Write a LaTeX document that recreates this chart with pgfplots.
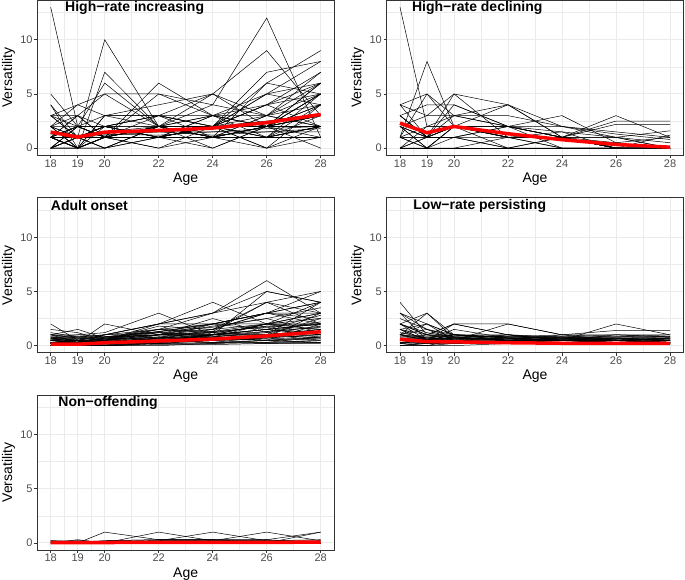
\documentclass[border=0pt]{standalone}
\usepackage{pgfplots}
\usepackage{pgfplotstable}
\pgfplotsset{compat=1.18}
\usepackage{fontspec}
\setmainfont{Liberation Sans}
\definecolor{grid92}{HTML}{EBEBEB}
\definecolor{grey20}{HTML}{333333}
\definecolor{grey30}{HTML}{4D4D4D}

% High-rate increasing
\pgfplotstableread{
id 18 19 20 22 24 26 28
p1 13 2 1 2 1 2 3
p2 5 2 1 2 2 3 4
p3 4 1 10 2 2 2 3
p4 4 0 7 2 1 2 2
p5 3 2 6 2 2 1 2
p6 3 4 5 2 1 1 2
p7 3 1 1 6 3 2 5
p8 2 0 1 5 3 1 2
p9 1 1 2 3 5 2 2
p10 2 3 1 2 4 12 1
p11 1 0 0 2 5 9 3
p12 1 2 1 1 2 7 8
p13 1 1 2 1 1 6 9
p14 0 1 1 2 2 5 8
p15 0 0 1 1 2 4 7
p16 1 0 1 1 3 2 6
p17 1 1 0 1 2 2 6
p18 0 2 1 0 1 2 5
p19 1 1 1 2 0 2 5
p20 0 1 1 1 1 1 4
p21 1 1 1 1 2 0 4
p22 1 0 1 3 1 2 3
p23 1 1 1 1 3 2 3
p24 0 1 1 0 2 2 2
p25 1 2 2 1 2 2 1
p26 1 1 1 2 1 0 2
p27 0 0 1 1 0 2 2
p28 1 1 0 2 2 0 1
p29 1 0 1 1 2 2 0
p30 1 3 1 1 1 1 2
p31 0 1 1 2 1 2 3
p32 1 0 2 1 2 2 2
p33 1 2 1 1 1 1 1
p34 1 1 1 1 2 2 4
p35 0 0 0 1 1 1 2
p36 1 1 1.5 1.5 1.5 1.5 1.5
p37 1.3 1.2 1.3 1.2 1.5 1.8 2
p38 1.5 1 1.5 2 2 2.5 3
p39 1 1 1.2 1.5 1.2 1.5 1.8
p40 1 1 1 1 1 1 1
p41 2 4 3 3 2 4 6
p42 3 3 5 5 4 3 5
p43 2 0 3 3 2 5 6
p44 0 2 3 4 5 3 6
p45 2 1 2 3 3 4 5
p46 0 1 2 1 2 6 5
p47 2 1 0 2 3 5 4
p48 1 2 2 1 1 3 7
p49 2 0 3 2 2 4 2
p50 1 1 2 2 3 3 2
p51 3 1 2 2 1 2 4
p52 0 2 1 1 2 1 3
p53 1 0 1 1 1 3 2
p54 2 2 2 1 2 2 2
p55 1 3 2 3 2 1 5
}\rawA

% High-rate declining
\pgfplotstableread{
id 18 19 20 22 24 26 28
p1 13 2 2 2 1 0 0
p2 1 8 2 2 1 0 0
p3 4 5 2 2 1 0 0
p4 4 3 5 4 1 0 0
p5 3 4 4 2 3 0.5 0
p6 3 1 5 1 1 1 0
p7 2 0 2 4 1 0 0
p8 1 1 2 1 1 3 1
p9 0 2 2 1 1 1 1.6
p10 3 1 1 2 1 2.5 2.5
p11 2 1 4 2 1 2.2 2.2
p12 1 0 2 0 1 0.5 1
p13 0 0 0 1 1 0 0
p14 2 1 1 2 0 0 1.2
p15 3 1 2 1 1 0 0
p16 1 1 2 1 1 0 0
p17 0 1 1 1 0 0 0
p18 2 0 1 0 1 0 0
p19 4 1 1 0 0 0 0
p20 1 0 2 1 0 0 0
p21 0 0 0 0 0 0 0
p22 2 1 2 1 1.5 0 0
p23 1 2 3 3 2 1.5 1
p24 2 3 3 2 1.5 1 0.5
p25 0 1 3 2 2 1.3 0.8
p26 1 5 3 4 2 1 0
}\rawB

% Adult onset
\pgfplotstableread{
id 18 19 20 22 24 26 28
p1 2 0.5 0.3 0.5 1 1.5 2
p2 1.5 1.2 0.5 1 1 2 3
p3 1 1.5 0.7 1.3 2 3 4
p4 1 0.3 2 1 1 1 1.5
p5 0.7 1 1.2 3 1 2 2
p6 0.5 0.2 1 2 4 2 1
p7 0.3 0.5 0.5 1.5 3 6 3
p8 0 0 0.3 0.5 1 5 4
p9 0 0.2 0 1 1.5 4 5
p10 0.2 0 0.2 0.7 2 3 5
p11 0.5 0.3 0.5 2 3 4 2
p12 0 0 0 0.3 0.7 1 4
p13 1 0.7 0.5 1.8 1.5 2 4
p14 0.3 0.3 0.7 1 2 3 3
p15 0 0 0.2 0.5 0.3 0.8 3
p16 0.7 0.5 1 1.2 1 1.5 1
p17 0.2 0.3 0.3 0.3 0.5 1 2.5
p18 0 0 0 0.2 0.3 0.5 2
p19 0.5 0.7 0.8 1 1.2 1 0.5
p20 0 0.1 0.2 0.3 1 2 1.5
p21 0.3 0.2 0.5 0.8 0.5 0.7 1
p22 0 0 0 0 0.2 0.3 0.8
p23 0.2 0.3 0.2 0.5 0.8 1.2 1.8
p24 1 0.8 1 2 2 3 2
p25 0.8 0.5 0.3 0.7 0.5 1 0.7
p26 0 0 0.1 0.2 0.5 0.3 0.5
p27 0.3 0.5 0.3 1 1.8 2.5 1.2
p28 0.5 0.3 0.7 0.5 0.7 0.5 0.3
p29 0 0 0 0.5 0.3 0.2 0.2
p30 0.2 0.2 0.5 0.3 1 0.8 1.2
p31 0.7 0.3 0.8 1.2 0.8 1.3 2.2
p32 0 0.3 0 0.2 0.2 0.5 0.3
p33 0.3 0 0.2 0.7 1.3 1.7 1
p34 0.5 0.5 0.5 0.8 0.7 0.5 0.8
p35 0 0 0.3 0.3 0.5 0.7 0.5
p36 0.2 0.2 0.2 0.5 0.3 0.3 0.3
p37 0 0.2 0.5 1.3 2 1.5 2.8
p38 0.8 0.7 0.7 1 1 1 1
p39 0 0 0 0.1 0.1 0.2 0.3
p40 0.3 0.3 0.2 0.2 0.5 1 1.5
p41 0.5 0.5 1 2 3 5 4
p42 0.2 0.3 0.6 1.5 1.3 4 3
p43 0.6 0.4 0.4 0.6 1.5 3 4
p44 0.3 0.5 0.3 0.7 1 1.3 1.7
p45 0.7 0.7 0.5 1 1.3 2 2.5
p46 0.2 0.3 0.5 0.5 0.8 0.7 1.3
p47 0.5 0.3 0.7 0.7 1 1.5 1
p48 0.8 0.8 0.8 1.3 1.7 2.5 3.5
p49 0 0.2 0.2 0.3 0.7 0.5 0.7
p50 0.3 0.3 0.3 0.8 1.2 1.8 1.5
p51 1 1 0.8 1.5 2 2 3
p52 0.5 0.3 0.5 1 0.8 2 1.8
p53 0.2 0 0.3 0.5 1 1.5 2
p54 0.7 0.5 0.8 1 2.5 1.2 0.8
p55 0.3 0.2 0.2 0.7 0.7 1 1.2
p56 0.5 0.8 0.5 1.2 1.5 3 2.5
p57 0 0.1 0.3 0.5 0.5 1 0.7
p58 1.2 0.8 1 1.5 1.2 1.8 2
}\rawC

% Low-rate persisting
\pgfplotstableread{
id 18 19 20 22 24 26 28
p1 4 1 0.5 0.5 0.5 0.5 0.5
p2 3 1.5 0.8 0.5 0.5 0.3 0.3
p3 3 0.5 1 0.7 0.5 0.5 0.3
p4 2 3 1 0.5 0.7 0.5 0.5
p5 2 0.5 2 1 0.5 0.5 0.5
p6 1.5 2 0.5 2 1 0.5 0.3
p7 1 3 0.7 0.5 0.5 0.5 0.3
p8 2 1 2 1 0.5 2 1
p9 1 2 1 0.8 1 1.4 1.4
p10 0.5 1 1 0.8 0.8 1 1
p11 1.5 0.5 0.5 0.5 0.3 0.3 0.3
p12 1 0.5 1 0.5 1 0.8 0.8
p13 0.5 0.3 0.5 0.3 0.3 0.5 0.7
p14 0.3 0.5 0.3 0.3 0.2 0.3 0.2
p15 0 0 0.2 0.5 0.5 0.7 0.5
p16 0.5 0.2 0.5 0.3 0.8 0.5 0.3
p17 1 0.7 0.7 0.7 0.5 0.3 0.5
p18 0.2 0.3 0.8 0.5 0.3 0.3 0.2
p19 0.3 0.2 0.2 0.2 0.2 0.2 0.2
p20 0 0.2 0.3 0.3 0.5 0.3 0.3
p21 0.8 0.7 0.5 1 0.5 1 0.8
p22 0.5 0.5 0.3 0.3 0.3 0.3 0.5
p23 0 0.3 0.2 0.2 0.3 0.2 0.2
p24 1.5 0.5 0.8 0.8 0.7 0.7 0.5
p25 0.7 0.3 0.5 0.2 0.2 0.5 0.3
p26 0.2 0 0 0.2 0.2 0.2 0.2
p27 1 1.5 0.5 0.5 0.5 0.5 0.7
p28 0.5 0.8 1 0.7 0.7 0.7 0.7
p29 0.3 0.2 0.3 0.5 0.5 0.3 0.5
p30 0 0 0.5 0.3 0.3 0.5 0.3
p31 2 1 2 2 1 1 0.8
p32 3 2 1 1 0.8 0.8 1
p33 0.7 0.5 0.7 0.7 0.5 0.7 0.5
p34 1 0.8 0.5 0.7 0.8 0.5 0.7
p35 2 1.2 0.8 0.8 0.7 0.8 0.8
p36 0.3 0.5 0.7 0.5 0.7 0.5 0.3
p37 1.2 0.7 0.7 0.5 0.5 0.7 0.5
p38 0.5 0.3 0.5 0.7 0.5 0.3 0.5
p39 0.8 1 0.8 0.5 0.5 0.5 0.7
p40 1.5 1 0.7 1 0.7 0.7 0.5
p41 0.2 0.5 0.5 0.3 0.5 0.5 0.3
p42 2.5 1.5 1 0.7 0.5 0.5 0.5
p43 0.5 0.7 1 0.8 0.8 0.7 0.8
p44 1 0.5 1.5 0.7 0.7 0.5 0.7
}\rawD

% Non-offending
\pgfplotstableread{
id 18 19 20 22 24 26 28
p1 0.2 0 1 0.3 0.3 0.3 0
p2 0 0.3 0 1 0.2 0.2 0.2
p3 0.2 0.1 0.1 0.2 1 0.2 0
p4 0 0.2 0.1 0.2 0.2 1 0.2
p5 0.1 0.1 0.2 0.3 0.2 0.3 1
p6 0 0 0.2 0.3 0.3 0 1
p7 0 0.1 0.1 0.2 0.3 0.2 0.3
p8 0 0 0 0 0 0 0
p9 0.2 0.2 0.1 0.1 0.1 0.1 0.1
}\rawE

\pgfplotstabletranspose[colnames from=id]{\TA}{\rawA}
\pgfplotstabletranspose[colnames from=id]{\TB}{\rawB}
\pgfplotstabletranspose[colnames from=id]{\TC}{\rawC}
\pgfplotstabletranspose[colnames from=id]{\TD}{\rawD}
\pgfplotstabletranspose[colnames from=id]{\TE}{\rawE}
\pgfplotstablegetrowsof{\rawA}\edef\NA{\pgfplotsretval}
\pgfplotstablegetrowsof{\rawB}\edef\NB{\pgfplotsretval}
\pgfplotstablegetrowsof{\rawC}\edef\NC{\pgfplotsretval}
\pgfplotstablegetrowsof{\rawD}\edef\ND{\pgfplotsretval}
\pgfplotstablegetrowsof{\rawE}\edef\NE{\pgfplotsretval}

\pgfplotsset{
 ind/.style={black, line width=0.5pt, mark=none},
 mean/.style={red, line width=3.5pt, mark=none},
 panel/.style={
  scale only axis, width=297pt, height=155pt,
  xmin=17.5, xmax=28.5, ymin=-0.65, ymax=13.65,
  xtick={18,19,20,22,24,26,28}, ytick={0,5,10},
  minor xtick={18.5,19.5,21,23,25,27}, minor ytick={2.5,7.5,12.5},
  grid=both,
  major grid style={grid92, line width=1pt},
  minor grid style={grid92, line width=0.5pt},
  axis line style={grey20, line width=0.8pt},
  tick align=outside, major tick length=3pt, minor tick length=0pt,
  major tick style={grey20, line width=0.8pt},
  tick pos=left,
  /pgf/number format/assume math mode=true,
  ticklabel style={font=\fontsize{11}{13}\selectfont, text=grey30},
  xticklabel style={inner sep=1pt},
  yticklabel style={inner sep=1.5pt},
  xlabel={Age}, ylabel={Versatility},
  label style={font=\fontsize{14}{16}\selectfont, inner sep=0pt},
  xlabel style={at={(axis description cs:0.5,-0.112)}, anchor=north},
  ylabel style={at={(axis description cs:-0.074,0.5)}, anchor=south},
  anchor=south west,
 },
}

\begin{document}
\begin{tikzpicture}
\useasboundingbox (0,0) rectangle (685pt,580pt);

\begin{axis}[panel, at={(37.2pt,424.8pt)}]
\pgfplotsinvokeforeach{1,...,\NA}{\addplot[ind] table[x=colnames,y=p#1]{\TA};}
\addplot[mean] coordinates {(18,1.48)(19,1.02)(20,1.48)(22,1.63)(24,1.85)(26,2.35)(28,3.11)};
\node[anchor=west, inner sep=0pt, font=\bfseries\fontsize{14}{16}\selectfont] at (axis cs:18.53,12.9) {High−rate increasing};
\end{axis}

\begin{axis}[panel, at={(386.5pt,424.8pt)}]
\pgfplotsinvokeforeach{1,...,\NB}{\addplot[ind] table[x=colnames,y=p#1]{\TB};}
\addplot[mean] coordinates {(18,2.31)(19,1.42)(20,2.0)(22,1.33)(24,0.78)(26,0.34)(28,0.09)};
\node[anchor=west, inner sep=0pt, font=\bfseries\fontsize{14}{16}\selectfont] at (axis cs:18.44,12.9) {High−rate declining};
\end{axis}

\begin{axis}[panel, at={(37.2pt,227.3pt)}]
\pgfplotsinvokeforeach{1,...,\NC}{\addplot[ind] table[x=colnames,y=p#1]{\TC};}
\addplot[mean] coordinates {(18,0.13)(19,0.13)(20,0.27)(22,0.43)(24,0.6)(26,0.9)(28,1.28)};
\node[anchor=west, inner sep=0pt, font=\bfseries\fontsize{14}{16}\selectfont] at (axis cs:18.0,12.9) {Adult onset};
\end{axis}

\begin{axis}[panel, at={(386.5pt,227.3pt)}]
\pgfplotsinvokeforeach{1,...,\ND}{\addplot[ind] table[x=colnames,y=p#1]{\TD};}
\addplot[mean] coordinates {(18,0.59)(19,0.37)(20,0.35)(22,0.27)(24,0.22)(26,0.22)(28,0.22)};
\node[anchor=west, inner sep=0pt, font=\bfseries\fontsize{14}{16}\selectfont] at (axis cs:18.49,12.9) {Low−rate persisting};
\end{axis}

\begin{axis}[panel, at={(37.2pt,30pt)}]
\pgfplotsinvokeforeach{1,...,\NE}{\addplot[ind] table[x=colnames,y=p#1]{\TE};}
\addplot[mean] coordinates {(18,0.04)(19,0.04)(20,0.04)(22,0.05)(24,0.05)(26,0.05)(28,0.08)};
\node[anchor=west, inner sep=0pt, font=\bfseries\fontsize{14}{16}\selectfont] at (axis cs:18.28,12.9) {Non−offending};
\end{axis}
\end{tikzpicture}
\end{document}
